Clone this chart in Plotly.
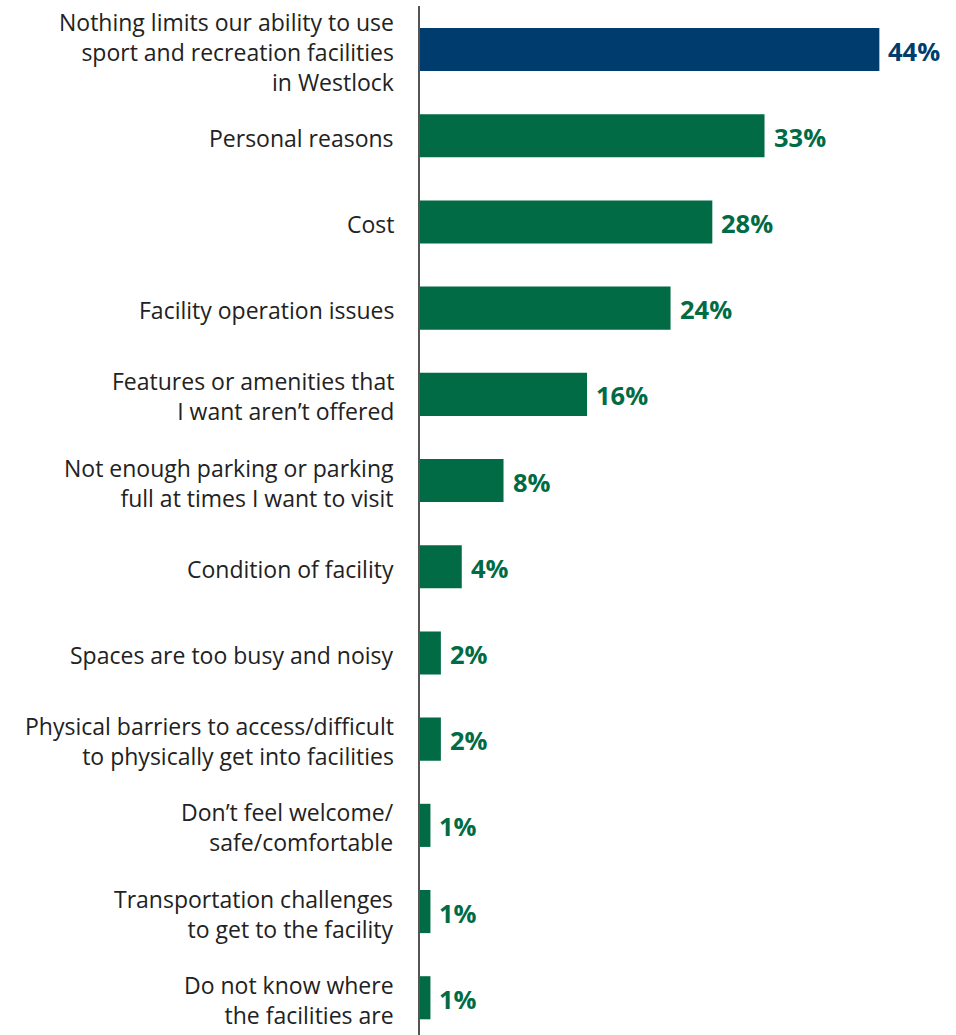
import plotly.graph_objects as go

categories = [
    "Nothing limits our ability to use<br>sport and recreation facilities<br>in Westlock",
    "Personal reasons",
    "Cost",
    "Facility operation issues",
    "Features or amenities that<br>I want aren’t offered",
    "Not enough parking or parking<br>full at times I want to visit",
    "Condition of facility",
    "Spaces are too busy and noisy",
    "Physical barriers to access/difficult<br>to physically get into facilities",
    "Don’t feel welcome/<br>safe/comfortable",
    "Transportation challenges<br>to get to the facility",
    "Do not know where<br>the facilities are",
]
values = [44, 33, 28, 24, 16, 8, 4, 2, 2, 1, 1, 1]

NAVY = "#003D6E"
GREEN = "#006B45"
colors = [NAVY] + [GREEN] * (len(values) - 1)

LABEL_FONT = dict(family="Open Sans", size=23, color="#222222")

fig = go.Figure(
    go.Bar(
        x=values,
        y=categories,
        orientation="h",
        width=0.5,
        marker=dict(color=colors, line=dict(width=0)),
        hoverinfo="skip",
    )
)

annotations = []
# category labels, right-aligned against the axis line
for cat in categories:
    annotations.append(dict(
        x=0, xref="paper", y=cat, yref="y",
        text=cat, showarrow=False, align="right",
        xanchor="right", yanchor="middle",
        xshift=-24, yshift=-2,
        font=LABEL_FONT,
    ))

# value labels at the end of each bar
for cat, v, c in zip(categories, values, colors):
    annotations.append(dict(
        x=v, xref="x", y=cat, yref="y",
        text=f"<b>{v}%</b>", showarrow=False,
        xanchor="left", yanchor="middle",
        xshift=7, yshift=-1,
        font=dict(family="Open Sans", size=25.5, color=c),
    ))

fig.update_layout(
    width=956,
    height=1035,
    margin=dict(l=420, r=14, t=6, b=0),
    paper_bgcolor="white",
    plot_bgcolor="white",
    showlegend=False,
    annotations=annotations,
    xaxis=dict(
        range=[0, 50],
        visible=False,
        fixedrange=True,
    ),
    yaxis=dict(
        type="category",
        categoryorder="array",
        categoryarray=categories,
        range=[11.432, -0.505],
        showline=True,
        linecolor="#555555",
        linewidth=1.5,
        showgrid=False,
        zeroline=False,
        ticks="",
        showticklabels=False,
        fixedrange=True,
    ),
)

fig.write_html("out.html")
